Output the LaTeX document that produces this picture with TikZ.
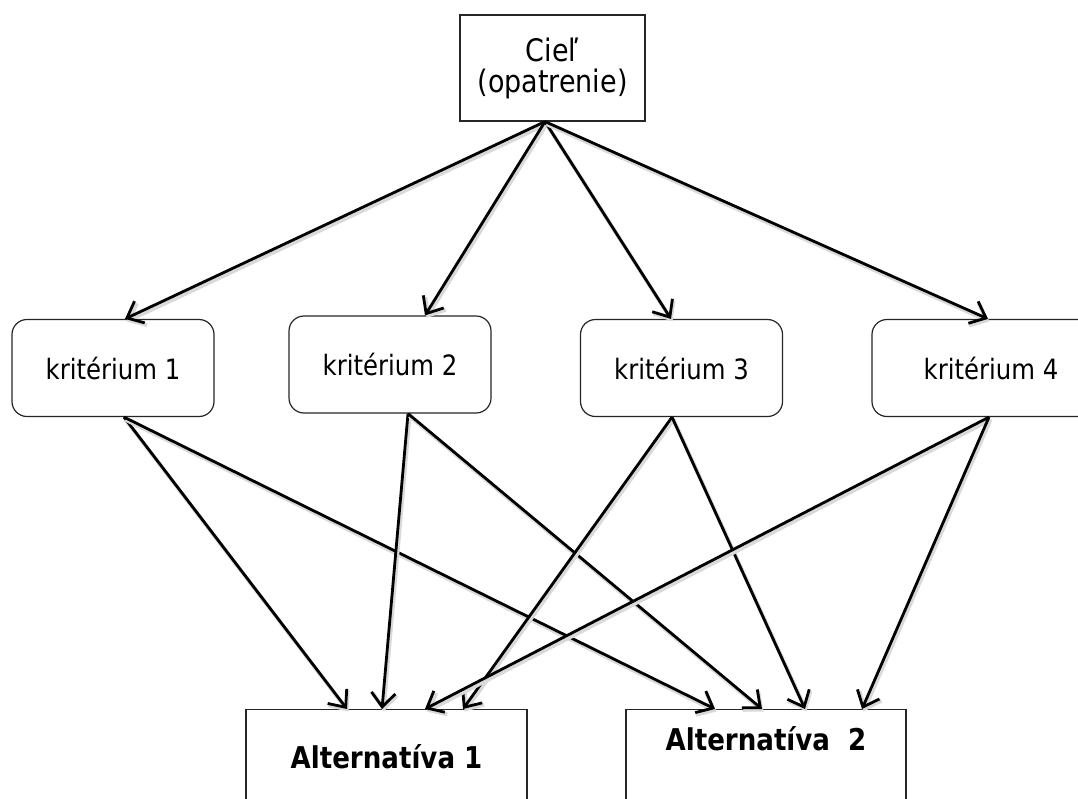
\documentclass[tikz,border=0pt]{standalone}
\usepackage{fontspec}
\setmainfont{DejaVu Sans}[FakeStretch=0.87]
\usetikzlibrary{arrows.meta}
\begin{document}
\begin{tikzpicture}[x=1pt,y=-1pt,
  arr/.style={line width=2.8pt, -{Straight Barb[length=14pt,width=24pt]},
    preaction={draw=black!15, line width=4pt, transform canvas={shift={(1.5pt,-2.5pt)}}}},
  goalbox/.style={draw=black!85, line width=1.2pt, minimum width=185pt, minimum height=106pt,
    align=center, font=\fontsize{31}{31}\selectfont, inner sep=0pt},
  critbox/.style={draw=black!85, line width=1.2pt, rounded corners=15pt, minimum width=202pt,
    minimum height=97pt, font=\fontsize{28}{28}\selectfont, inner sep=0pt},
  altbox/.style={draw=black!85, line width=1.2pt, anchor=north, minimum width=281pt,
    text height=22pt, text depth=60pt, font=\fontsize{30}{30}\selectfont\bfseries}
]
\useasboundingbox[fill=white] (0,0) rectangle (1078,798);
\clip (0,0) rectangle (1078,798);

\node[goalbox] (goal) at (552.5,68) {Cieľ\\(opatrenie)};

\node[critbox] (k1) at (113,368) {kritérium 1};
\node[critbox] (k2) at (390,364.5) {kritérium 2};
\node[critbox] (k3) at (681.5,368) {kritérium 3};
\node[critbox, minimum width=238pt] (k4) at (991,368) {kritérium 4\hspace{36pt}};

\node[altbox, inner ysep=37pt] (a1) at (386.5,709) {Alternatíva 1};
\node[altbox, inner ysep=19pt, minimum width=280pt] (a2) at (766,709) {Alternatíva\ \ 2};

% goal to criteria
\draw[arr] ([xshift=-7.5pt]goal.south) -- ([xshift=12pt]k1.north);
\draw[arr] ([xshift=-7.5pt]goal.south) -- ([xshift=35pt]k2.north);
\draw[arr] ([xshift=-7.5pt]goal.south) -- ([xshift=-10.5pt]k3.north);
\draw[arr] ([xshift=-7.5pt]goal.south) -- ([xshift=-3pt]k4.north);

% criteria to alternatives
\draw[arr] ([xshift=11pt]k1.south) -- ([xshift=-39.5pt]a1.north);
\draw[arr] ([xshift=11pt]k1.south) -- ([xshift=-51pt]a2.north);
\draw[arr] ([xshift=18pt]k2.south) -- ([xshift=-4.5pt]a1.north);
\draw[arr] ([xshift=18pt]k2.south) -- ([xshift=-4pt]a2.north);
\draw[arr] ([xshift=-9.5pt]k3.south) -- ([xshift=76.5pt]a1.north);
\draw[arr] ([xshift=-9.5pt]k3.south) -- ([xshift=39pt]a2.north);
\draw[arr] ([xshift=-2pt]k4.south) -- ([xshift=38.5pt]a1.north);
\draw[arr] ([xshift=-2pt]k4.south) -- ([xshift=96pt]a2.north);
\end{tikzpicture}
\end{document}
